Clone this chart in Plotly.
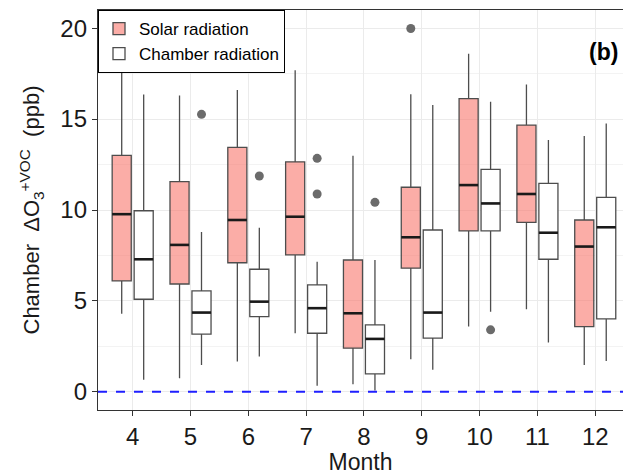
import plotly.graph_objects as go

months = [4, 5, 6, 7, 8, 9, 10, 11, 12]

# Solar radiation box stats
solar_low = [4.3, 0.75, 1.67, 3.22, 0.42, 1.79, 3.59, 4.54, 1.48]
solar_q1 = [6.1, 5.93, 7.1, 7.53, 2.4, 6.8, 8.85, 9.32, 3.59]
solar_med = [9.77, 8.08, 9.45, 9.63, 4.32, 8.5, 11.37, 10.88, 7.99]
solar_q3 = [13.0, 11.56, 13.44, 12.65, 7.25, 11.25, 16.13, 14.67, 9.45]
solar_high = [18.6, 16.3, 16.6, 17.69, 12.98, 16.37, 18.6, 16.9, 14.07]
solar_out_month = [9]
solar_out_val = [19.98]

# Chamber radiation box stats
ch_low = [0.66, 1.48, 1.94, 0.33, 0.07, 1.21, 4.41, 2.71, 1.70]
ch_q1 = [5.09, 3.17, 4.14, 3.22, 0.99, 2.95, 8.85, 7.29, 4.01]
ch_med = [7.29, 4.36, 4.96, 4.6, 2.91, 4.36, 10.36, 8.75, 9.05]
ch_q3 = [9.96, 5.55, 6.74, 5.88, 3.68, 8.9, 12.23, 11.46, 10.69]
ch_high = [16.35, 8.79, 9.03, 7.16, 7.25, 15.77, 15.95, 13.85, 14.76]
ch_out_month = [5, 6, 7, 7, 8, 10]
ch_out_val = [15.26, 11.87, 12.84, 10.88, 10.42, 3.41]

OFF = 0.19
BW = 0.33
FONT = "Arial, Liberation Sans, sans-serif"

fig = go.Figure()

def add_group(name, shift, low, q1, med, q3, high, om, ov, fill):
    xs = [m + shift for m in months]
    fig.add_trace(go.Box(
        name=name, x=xs, lowerfence=low, q1=q1, median=med, q3=q3,
        upperfence=high, width=BW, whiskerwidth=0, fillcolor=fill,
        line=dict(color="#4d4d4d", width=1.3), boxpoints=False,
        showlegend=True))
    # thick median overlay
    mx, my = [], []
    for x, m in zip(xs, med):
        mx += [x - BW / 2, x + BW / 2, None]
        my += [m, m, None]
    fig.add_trace(go.Scatter(x=mx, y=my, mode="lines",
                             line=dict(color="#1a1a1a", width=2.6),
                             showlegend=False, hoverinfo="skip"))
    fig.add_trace(go.Scatter(x=[m + shift for m in om], y=ov, mode="markers",
                             marker=dict(color="#6b6b6b", size=9),
                             showlegend=False, hoverinfo="skip"))

add_group("Solar radiation", -OFF, solar_low, solar_q1, solar_med, solar_q3,
          solar_high, solar_out_month, solar_out_val, "rgba(248,118,109,0.6)")
add_group("Chamber radiation", OFF, ch_low, ch_q1, ch_med, ch_q3, ch_high,
          ch_out_month, ch_out_val, "white")

fig.add_hline(y=0, line=dict(color="#1f1fff", width=2, dash="dash"))

fig.add_annotation(text="<b>(b)</b>", x=0.995, y=0.895, xref="paper", yref="paper",
                   xanchor="right", yanchor="middle", showarrow=False,
                   font=dict(size=23, color="black", family=FONT))

fig.update_layout(
    width=623, height=475,
    margin=dict(l=98, r=0, t=10, b=65),
    plot_bgcolor="white", paper_bgcolor="white",
    font=dict(family=FONT, color="#1a1a1a"),
    legend=dict(x=0, y=1, xanchor="left", yanchor="top",
                bgcolor="white", bordercolor="black", borderwidth=1,
                font=dict(size=17, color="black", family=FONT),
                tracegroupgap=0),
    xaxis=dict(range=[3.4, 12.48], tickmode="array", tickvals=months,
               ticktext=[str(m) for m in months],
               showgrid=True, gridcolor="#EBEBEB", gridwidth=1.3,
               zeroline=False, showline=True, linecolor="#333333", linewidth=1.3,
               mirror=True, ticks="outside", ticklen=5, tickcolor="#333333",
               tickfont=dict(size=24, color="#1a1a1a"),
               title=dict(text="Month", font=dict(size=23, color="#1a1a1a"), standoff=2)),
    yaxis=dict(range=[-1, 21], tickmode="array", tickvals=[0, 5, 10, 15, 20],
               showgrid=True, gridcolor="#EBEBEB", gridwidth=1.3,
               minor=dict(tickvals=[2.5, 7.5, 12.5, 17.5], showgrid=True,
                          gridcolor="#F3F3F3", gridwidth=1),
               zeroline=False, showline=True, linecolor="#333333", linewidth=1.3,
               mirror=False, ticks="outside", ticklen=5, tickcolor="#333333",
               tickfont=dict(size=24, color="#1a1a1a"),
               title=dict(text="Chamber  ΔO<sub>3</sub><sup>+VOC</sup>  (ppb)",
                          font=dict(size=22, color="#1a1a1a"), standoff=14)),
)

fig.write_html("out.html")
